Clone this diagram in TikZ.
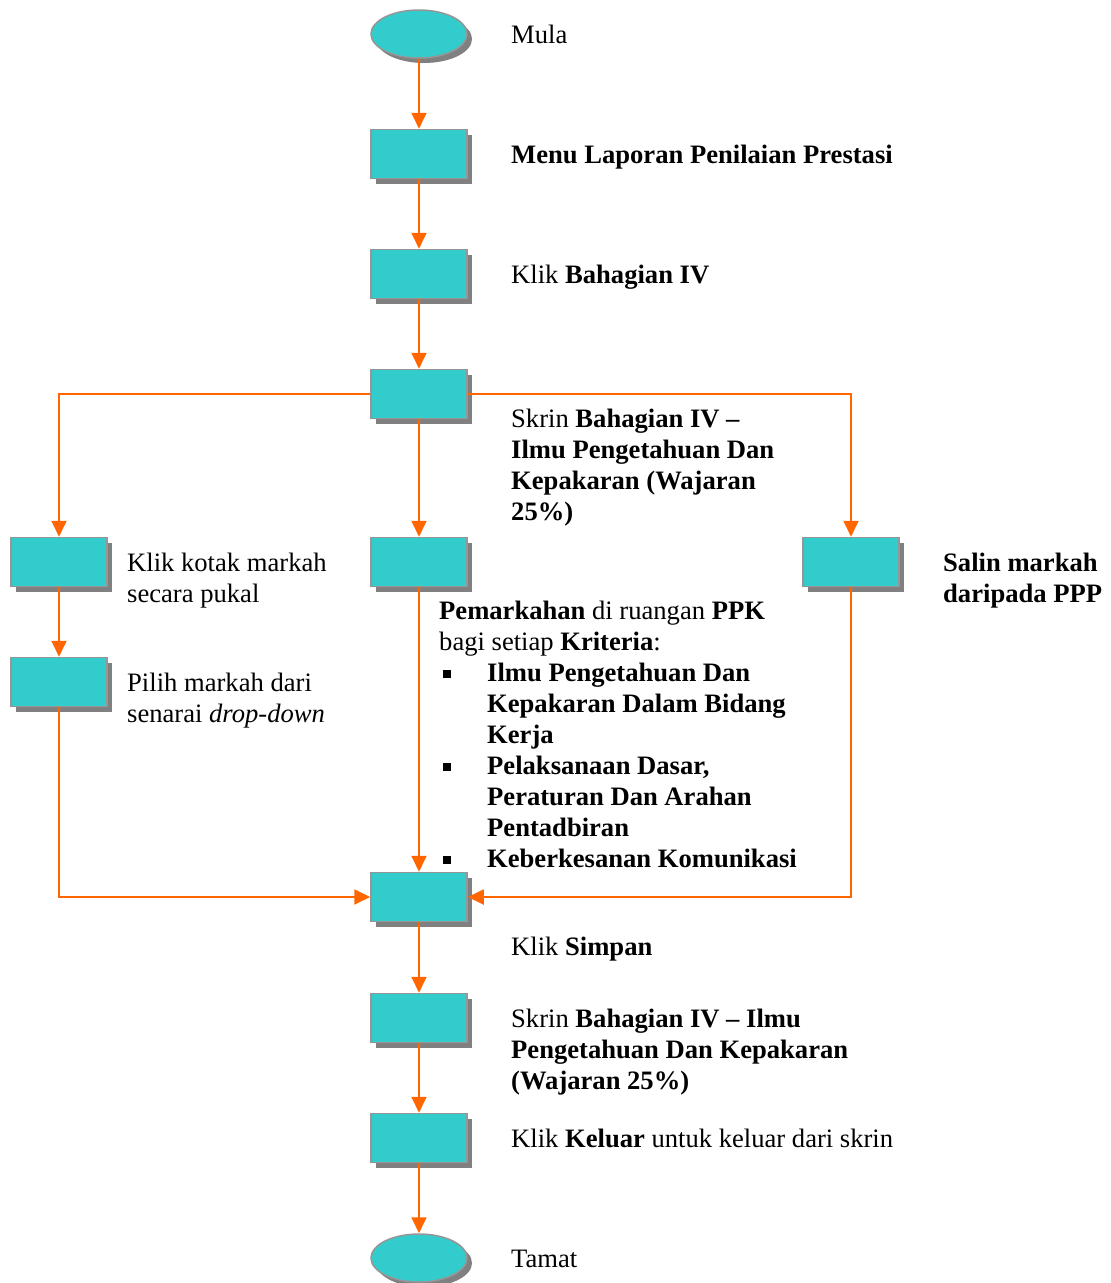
\documentclass[tikz,border=0pt]{standalone}
\usepackage{fontspec}
\setmainfont{Liberation Serif}
\usetikzlibrary{arrows.meta,shapes.geometric,shadows}
\definecolor{turq}{RGB}{51,204,204}
\definecolor{rim}{RGB}{150,150,150}
\definecolor{shade}{RGB}{128,128,128}
\definecolor{flame}{RGB}{255,102,0}
\newcommand{\sqbullet}{\makebox[48pt][l]{\hspace{4pt}\rule[3pt]{8pt}{8pt}}}
\tikzset{
  >={Triangle[length=16pt,width=15pt]},
  box/.style={draw=rim,line width=1.5pt,fill=turq,inner sep=0pt,
    minimum width=96pt,minimum height=49pt,
    drop shadow={shadow xshift=5pt,shadow yshift=-5pt,fill=shade,opacity=1}},
  term/.style={box,ellipse,minimum height=48pt},
  flow/.style={->,line width=1.8pt,draw=flame},
  % base of a multi-line tag is its last line
  tag/.style={anchor=base west,inner sep=0pt,align=left,
    font=\fontsize{26.6}{31}\selectfont},
}
\begin{document}
\begin{tikzpicture}[x=1pt,y=-1pt]
  \useasboundingbox (0,0) rectangle (1111,1283);
  % main column
  \node[term] (start) at (419,34) {};
  \node[box] (menu) at (419,154) {};
  \node[box] (bah) at (419,274) {};
  \node[box] (skrin) at (419,394) {};
  \node[box] (kotak) at (59,562) {};
  \node[box] (ruang) at (419,562) {};
  \node[box] (salin) at (851,562) {};
  \node[box] (pilih) at (59,682) {};
  \node[box] (simpan) at (419,897) {};
  \node[box] (skrin2) at (419,1018) {};
  \node[box] (keluar) at (419,1138) {};
  \node[term] (end) at (419,1258) {};
  % labels
  \node[tag] (tmula) at (511,43) {Mula};
  \node[tag] (tmenu) at (511,163) {\textbf{Menu Laporan Penilaian Prestasi}};
  \node[tag] (tbah) at (511,283) {Klik \textbf{Bahagian IV}};
  \node[tag] (tskrin) at (511,520) {Skrin \textbf{Bahagian IV –}\\
    \textbf{Ilmu Pengetahuan Dan}\\ \textbf{Kepakaran (Wajaran}\\ \textbf{25\%)}};
  \node[tag] (tkotak) at (127,602) {Klik kotak markah\\ secara pukal};
  \node[tag] (tpilih) at (127,722) {Pilih markah dari\\ senarai \textit{drop-down}};
  \node[tag] (tsalin) at (943,602) {\textbf{Salin markah}\\ \textbf{daripada PPP}};
  \node[tag] (truang) at (439,867) {\textbf{Pemarkahan} di ruangan \textbf{PPK}\\
    bagi setiap \textbf{Kriteria}:\\
    \sqbullet\textbf{Ilmu Pengetahuan Dan}\\
    \hspace{48pt}\textbf{Kepakaran Dalam Bidang}\\
    \hspace{48pt}\textbf{Kerja}\\
    \sqbullet\textbf{Pelaksanaan Dasar,}\\
    \hspace{48pt}\textbf{Peraturan Dan Arahan}\\
    \hspace{48pt}\textbf{Pentadbiran}\\
    \sqbullet\textbf{Keberkesanan Komunikasi}};
  \node[tag] (tsimpan) at (511,955) {Klik \textbf{Simpan}};
  \node[tag] (tskrin2) at (511,1089) {Skrin \textbf{Bahagian IV – Ilmu}\\
    \textbf{Pengetahuan Dan Kepakaran}\\ \textbf{(Wajaran 25\%)}};
  \node[tag] (tkeluar) at (511,1147) {Klik \textbf{Keluar} untuk keluar dari skrin};
  \node[tag] (ttamat) at (511,1267) {Tamat};
  % connectors
  \draw[flow] (start) -- (menu);
  \draw[flow] (menu) -- (bah);
  \draw[flow] (bah) -- (skrin);
  \draw[flow] (skrin.west) -| (kotak.north);
  \draw[flow] (skrin) -- (ruang);
  \draw[flow] (skrin.east) -| (salin.north);
  \draw[flow] (kotak) -- (pilih);
  \draw[flow] (pilih.south) |- (simpan.west);
  \draw[flow] (ruang) -- (simpan);
  \draw[flow] (salin.south) |- (simpan.east);
  \draw[flow] (simpan) -- (skrin2);
  \draw[flow] (skrin2) -- (keluar);
  \draw[flow] (keluar) -- (end);
\end{tikzpicture}
\end{document}
